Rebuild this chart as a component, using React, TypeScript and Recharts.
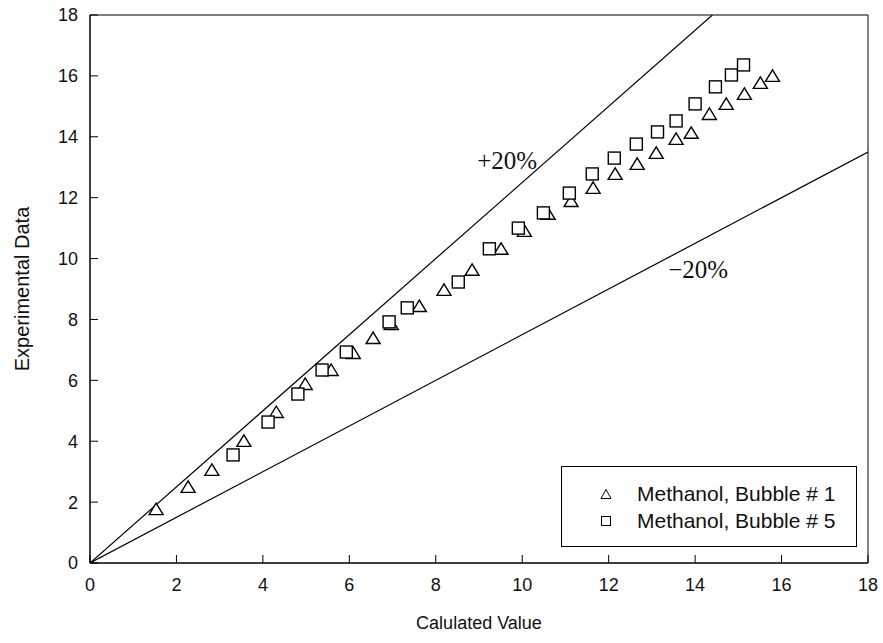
import { ScatterChart, Scatter, XAxis, YAxis, ReferenceArea, ReferenceDot, Legend } from 'recharts';

const xTicks = [0, 2, 4, 6, 8, 10, 12, 14, 16, 18];
const yTicks = [0, 2, 4, 6, 8, 10, 12, 14, 16, 18];

// Methanol, Bubble # 1 (triangles)
const bubble1Calc = [
  1.53, 2.27, 2.82, 3.56, 4.31, 4.98, 5.58, 6.09, 6.55, 6.97, 7.62, 8.19, 8.84, 9.51,
  10.05, 10.6, 11.13, 11.64, 12.15, 12.66, 13.1, 13.56, 13.91, 14.33, 14.72, 15.14, 15.51, 15.79,
];
const bubble1Exp = [
  1.77, 2.5, 3.06, 4.01, 4.96, 5.88, 6.34, 6.9, 7.39, 7.85, 8.44, 8.97, 9.63, 10.32,
  10.91, 11.47, 11.89, 12.32, 12.78, 13.11, 13.47, 13.93, 14.13, 14.75, 15.08, 15.41, 15.77, 16.0,
];

// Methanol, Bubble # 5 (squares)
const bubble5Calc = [
  3.31, 4.12, 4.81, 5.37, 5.93, 6.92, 7.34, 8.52, 9.24, 9.91, 10.49, 11.09, 11.62, 12.13,
  12.64, 13.13, 13.56, 14.0, 14.47, 14.84, 15.12,
];
const bubble5Exp = [
  3.55, 4.63, 5.55, 6.34, 6.93, 7.92, 8.38, 9.23, 10.32, 11.0, 11.5, 12.15, 12.78, 13.3,
  13.76, 14.16, 14.52, 15.08, 15.64, 16.03, 16.36,
];

// +/-20% bounds
const plusLine = [{ x: 0, y: 0 }, { x: 14.4, y: 18 }];
const minusLine = [{ x: 0, y: 0 }, { x: 18, y: 13.5 }];
const bandLabels = ['+20%', '\u221220%'];

const seriesNames = ['Methanol, Bubble # 1', 'Methanol, Bubble # 5'];

const zip = (xs: number[], ys: number[]) => xs.map((x, i) => ({ x, y: ys[i] }));
const bubble1 = zip(bubble1Calc, bubble1Exp);
const bubble5 = zip(bubble5Calc, bubble5Exp);

const SANS = '"Liberation Sans", Arial, sans-serif';
const SERIF = '"Liberation Serif", "Times New Roman", serif';

const Triangle = (props: any) => {
  const { cx, cy } = props;
  return (
    <polygon
      points={`${cx},${cy - 6} ${cx - 7},${cy + 5.5} ${cx + 7},${cy + 5.5}`}
      fill="#fff"
      stroke="#000"
      strokeWidth={1.4}
    />
  );
};

const Square = (props: any) => {
  const { cx, cy } = props;
  return <rect x={cx - 6} y={cy - 6} width={12} height={12} fill="#fff" stroke="#000" strokeWidth={1.4} />;
};

const NoMarker = () => <g />;

const LegendBox = () => (
  <div
    style={{
      position: 'relative',
      width: 296,
      height: 81,
      border: '1px solid #000',
      boxSizing: 'border-box',
      background: '#fff',
      fontFamily: SANS,
      fontSize: 21,
      lineHeight: '21px',
      color: '#111',
    }}
  >
    {seriesNames.map((name, i) => (
      <div key={name}>
        <svg
          width={12}
          height={12}
          style={{ position: 'absolute', left: 38, top: i === 0 ? 21 : 48 }}
        >
          {i === 0 ? (
            <polygon points="6,1.5 1,10.5 11,10.5" fill="none" stroke="#000" strokeWidth={1} />
          ) : (
            <rect x={1.5} y={1.5} width={9} height={9} fill="none" stroke="#000" strokeWidth={1} />
          )}
        </svg>
        <div style={{ position: 'absolute', left: 75, top: i === 0 ? 16 : 43, whiteSpace: 'nowrap' }}>
          {name}
        </div>
      </div>
    ))}
  </div>
);

export default function App() {
  return (
    <div style={{ position: 'absolute', left: 0, top: 0, background: '#fff' }}>
      <ScatterChart width={883} height={643} margin={{ top: 15, right: 15, left: 0, bottom: 0 }}>
        <XAxis
          dataKey="x"
          type="number"
          domain={[0, 18]}
          ticks={xTicks}
          allowDataOverflow
          height={80}
          tickSize={-8}
          tickMargin={23}
          axisLine={{ stroke: '#000' }}
          tickLine={{ stroke: '#000' }}
          tick={{ fill: '#111', fontSize: 18, fontFamily: SANS }}
          label={({ viewBox }: any) => (
            <text
              x={viewBox.x + viewBox.width / 2}
              y={viewBox.y + 60}
              textAnchor="middle"
              dominantBaseline="central"
              fill="#111"
              fontSize={18}
              fontFamily={SANS}
            >
              Calulated Value
            </text>
          )}
        />
        <YAxis
          dataKey="y"
          type="number"
          domain={[0, 18]}
          ticks={yTicks}
          allowDataOverflow
          width={90}
          tickSize={-8}
          tickMargin={20}
          axisLine={{ stroke: '#000' }}
          tickLine={{ stroke: '#000' }}
          tick={{ fill: '#111', fontSize: 18, fontFamily: SANS }}
          label={({ viewBox }: any) => {
            const cx = 22;
            const cy = viewBox.y + viewBox.height / 2;
            return (
              <text
                x={cx}
                y={cy}
                transform={`rotate(-90, ${cx}, ${cy})`}
                textAnchor="middle"
                dominantBaseline="central"
                fill="#111"
                fontSize={20}
                fontFamily={SANS}
              >
                Experimental Data
              </text>
            );
          }}
        />
        <ReferenceArea x1={0} x2={18} y1={0} y2={18} fill="none" fillOpacity={0} stroke="#000" strokeWidth={1} />
        <Scatter
          data={plusLine}
          line={{ stroke: '#000', strokeWidth: 1.2 }}
          shape={NoMarker}
          legendType="none"
          isAnimationActive={false}
        />
        <Scatter
          data={minusLine}
          line={{ stroke: '#000', strokeWidth: 1.2 }}
          shape={NoMarker}
          legendType="none"
          isAnimationActive={false}
        />
        <Scatter name={seriesNames[0]} data={bubble1} shape={Triangle} isAnimationActive={false} />
        <Scatter name={seriesNames[1]} data={bubble5} shape={Square} isAnimationActive={false} />
        <ReferenceDot
          x={9.65}
          y={13.24}
          r={0}
          stroke="none"
          label={{ value: bandLabels[0], position: 'center', fontSize: 25, fontFamily: SERIF, fill: '#111' }}
        />
        <ReferenceDot
          x={14.07}
          y={9.66}
          r={0}
          stroke="none"
          label={{ value: bandLabels[1], position: 'center', fontSize: 25, fontFamily: SERIF, fill: '#111' }}
        />
        <Legend
          layout="vertical"
          align="center"
          verticalAlign="middle"
          content={() => <LegendBox />}
          wrapperStyle={{ left: 561, top: 466, width: 296, height: 81 }}
        />
      </ScatterChart>
    </div>
  );
}
